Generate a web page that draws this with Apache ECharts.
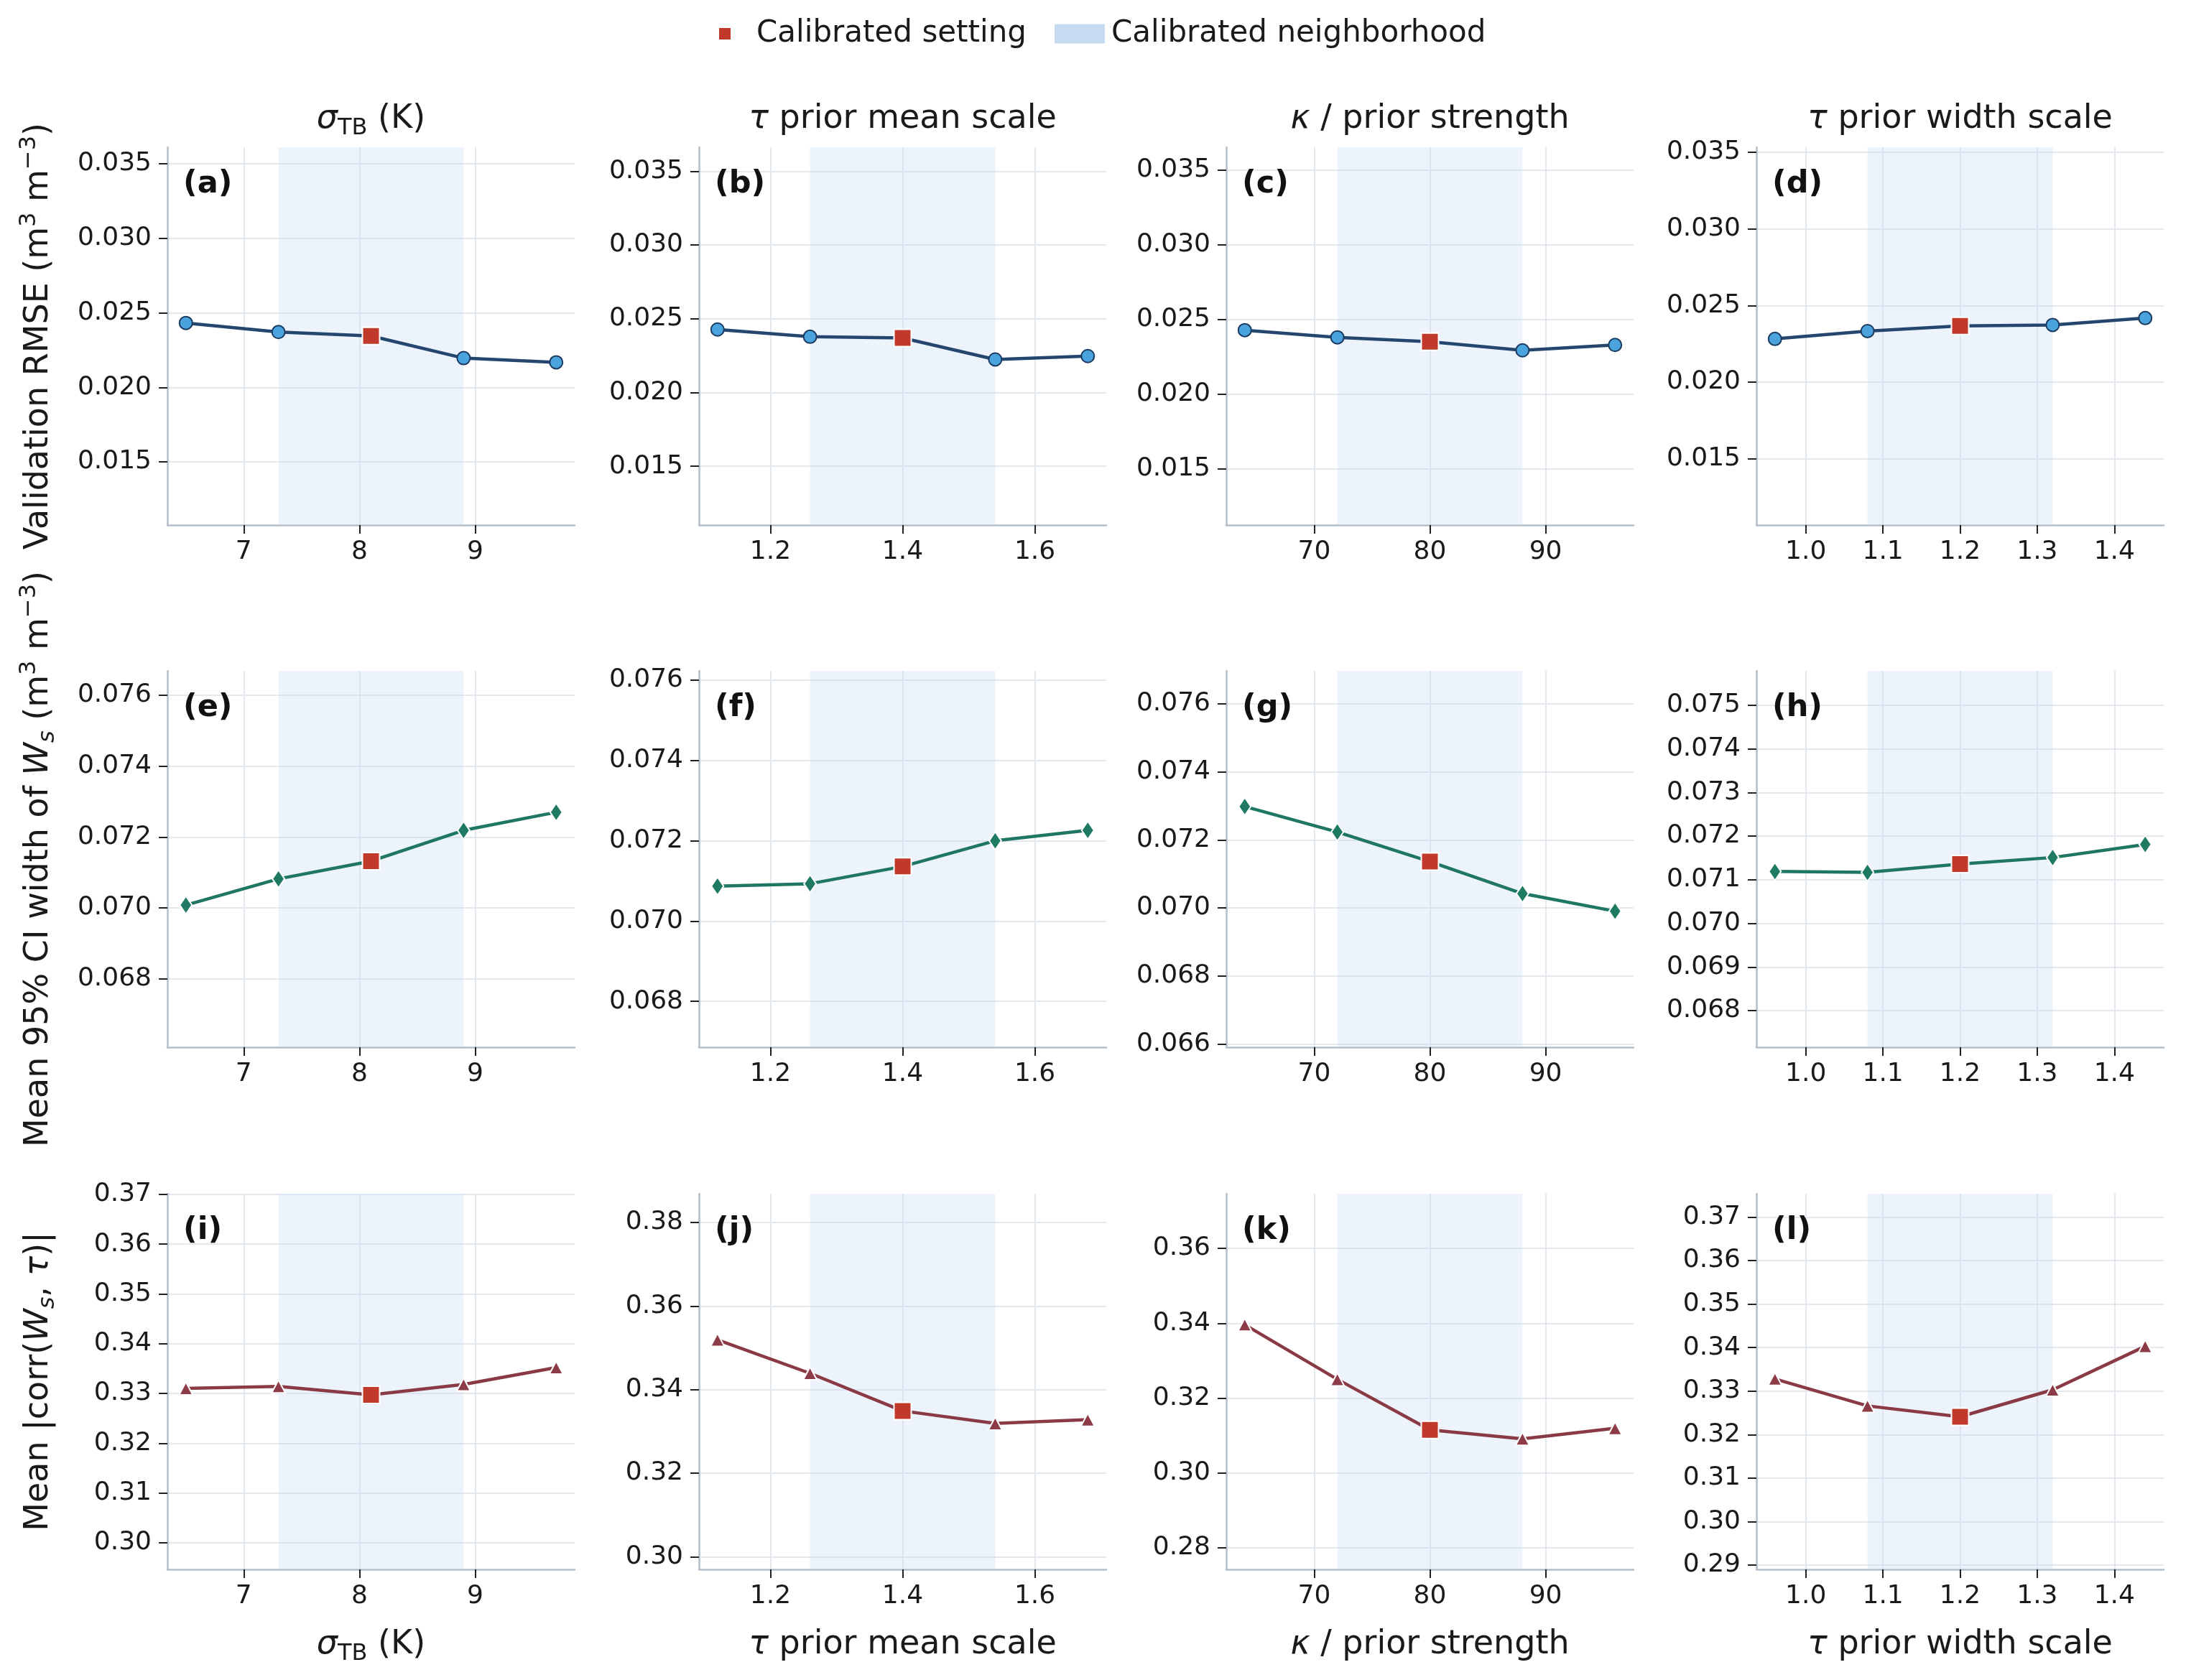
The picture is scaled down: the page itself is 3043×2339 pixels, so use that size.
<!DOCTYPE html>
<html>
<head>
<meta charset="utf-8">
<script src="https://cdn.jsdelivr.net/npm/echarts@6/dist/echarts.min.js"></script>
<style>
  html, body { margin: 0; padding: 0; background: #fff; }
  #chart { width: 3043px; height: 2339px; }
</style>
</head>
<body>
<div id="chart"></div>
<script>
// parameter sweeps (x values of each column)
const sigmaTB = [6.5, 7.3, 8.1, 8.9, 9.7];
const tauMeanScale = [1.12, 1.26, 1.40, 1.54, 1.68];
const kappaStrength = [64, 72, 80, 88, 96];
const tauWidthScale = [0.96, 1.08, 1.20, 1.32, 1.44];
const calibratedIndex = 2;
const neighborhoodLow = [7.3, 1.26, 72, 1.08];
const neighborhoodHigh = [8.9, 1.54, 88, 1.32];

// row 1: validation RMSE
const rmseSigma = [0.02432, 0.02371, 0.02345, 0.02196, 0.02168];
const rmseTauMean = [0.02427, 0.02378, 0.02370, 0.02224, 0.02247];
const rmseKappa = [0.02429, 0.02381, 0.02352, 0.02294, 0.02330];
const rmseTauWidth = [0.02282, 0.02333, 0.02367, 0.02373, 0.02418];

// row 2: mean 95% CI width
const ciSigma = [0.07008, 0.07082, 0.07132, 0.07219, 0.07270];
const ciTauMean = [0.07087, 0.07093, 0.07136, 0.07200, 0.07226];
const ciKappa = [0.07298, 0.07223, 0.07136, 0.07042, 0.06990];
const ciTauWidth = [0.07119, 0.07117, 0.07136, 0.07151, 0.07181];

// row 3: mean |corr(Ws, tau)|
const corrSigma = [0.3310, 0.3314, 0.3297, 0.3318, 0.3352];
const corrTauMean = [0.3519, 0.3439, 0.3349, 0.3319, 0.3328];
const corrKappa = [0.3396, 0.3250, 0.3115, 0.3091, 0.3119];
const corrTauWidth = [0.3328, 0.3266, 0.3241, 0.3303, 0.3403];

// tick labels
const xTicks = [[7, 8, 9], [1.2, 1.4, 1.6], [70, 80, 90], [1.0, 1.1, 1.2, 1.3, 1.4]];
const xDecimals = [0, 1, 0, 1];
const yTicksRmse = [0.015, 0.020, 0.025, 0.030, 0.035];
const yTicksCi = [0.068, 0.070, 0.072, 0.074, 0.076];
const yTicksCiG = [0.066, 0.068, 0.070, 0.072, 0.074, 0.076];
const yTicksCiH = [0.068, 0.069, 0.070, 0.071, 0.072, 0.073, 0.074, 0.075];
const yTicksCorrI = [0.30, 0.31, 0.32, 0.33, 0.34, 0.35, 0.36, 0.37];
const yTicksCorrJ = [0.30, 0.32, 0.34, 0.36, 0.38];
const yTicksCorrK = [0.28, 0.30, 0.32, 0.34, 0.36];
const yTicksCorrL = [0.29, 0.30, 0.31, 0.32, 0.33, 0.34, 0.35, 0.36, 0.37];
const yDecimals = [3, 3, 2];

// y axis limits
const yLimits = [
  [[0.01076, 0.03611], [0.01102, 0.03662], [0.01126, 0.03652], [0.01068, 0.03532]],
  [[0.06607, 0.07669], [0.06686, 0.07623], [0.06590, 0.07697], [0.06716, 0.07579]],
  [[0.29464, 0.37013], [0.29700, 0.38685], [0.27419, 0.37461], [0.28902, 0.37537]]
];

const xValues = [sigmaTB, tauMeanScale, kappaStrength, tauWidthScale];
const yValues = [
  [rmseSigma, rmseTauMean, rmseKappa, rmseTauWidth],
  [ciSigma, ciTauMean, ciKappa, ciTauWidth],
  [corrSigma, corrTauMean, corrKappa, corrTauWidth]
];
const yTicks = [
  [yTicksRmse, yTicksRmse, yTicksRmse, yTicksRmse],
  [yTicksCi, yTicksCi, yTicksCiG, yTicksCiH],
  [yTicksCorrI, yTicksCorrJ, yTicksCorrK, yTicksCorrL]
];
const panelLetters = ['a', 'b', 'c', 'd', 'e', 'f', 'g', 'h', 'i', 'j', 'k', 'l'];

const FONT = 'DejaVu Sans';
const TEXT = '#1a1a1a';
const SPINE = '#b4bec9';
const GRIDLINE = '#e4e8ef';

const colLeft = [233, 973, 1707, 2445];
const colWidth = 567;
const rowTop = [205, 934, 1662];
const rowHeight = [526, 524, 523];

const rowStyle = [
  { line: '#25476f', fill: '#4aa3dc', edge: '#1b3a60', symbol: 'circle', size: 18 },
  { line: '#1f7762', fill: '#1f7a63', edge: '#ffffff', symbol: 'diamond', size: [17, 25] },
  { line: '#8a3a45', fill: '#8c3b47', edge: '#ffffff', symbol: 'triangle', size: [19, 18] }
];

const richBase = {
  i: { fontStyle: 'italic', fontSize: 46, fontFamily: FONT, color: TEXT, lineHeight: 58 },
  sub: { fontSize: 32, fontFamily: FONT, color: TEXT, verticalAlign: 'bottom', lineHeight: 36 },
  isub: { fontSize: 32, fontStyle: 'italic', fontFamily: FONT, color: TEXT, verticalAlign: 'bottom', lineHeight: 36 },
  sup: { fontSize: 32, fontFamily: FONT, color: TEXT, verticalAlign: 'top', lineHeight: 34 }
};

const colNames = [
  '{i|σ}{sub|TB} (K)',
  '{i|τ} prior mean scale',
  '{i|κ} / prior strength',
  '{i|τ} prior width scale'
];
const rowNames = [
  'Validation RMSE (m{sup|3} m{sup|−3})',
  'Mean 95% CI width of {i|W}{isub|s} (m{sup|3} m{sup|−3})',
  'Mean |corr({i|W}{isub|s}, {i|τ})|'
];

const nameStyle = {
  fontSize: 46, fontFamily: FONT, color: TEXT, lineHeight: 58, rich: richBase
};

const grids = [], xAxes = [], yAxes = [], series = [], graphics = [];

for (let r = 0; r < 3; r++) {
  for (let c = 0; c < 4; c++) {
    const k = r * 4 + c;
    const xs = xValues[c];
    const ys = yValues[r][c];
    const st = rowStyle[r];
    const span = xs[xs.length - 1] - xs[0];

    grids.push({
      left: colLeft[c], top: rowTop[r], width: colWidth, height: rowHeight[r],
      containLabel: false, outerBoundsMode: 'none'
    });

    xAxes.push({
      gridIndex: k, type: 'value',
      min: xs[0] - 0.05 * span, max: xs[xs.length - 1] + 0.05 * span,
      axisLine: { show: true, onZero: false, lineStyle: { color: SPINE, width: 2.5 } },
      axisTick: { show: true, length: 12, lineStyle: { color: '#222', width: 2 }, customValues: xTicks[c] },
      axisLabel: {
        customValues: xTicks[c], margin: 20, fontSize: 36, fontFamily: FONT, color: TEXT,
        formatter: v => Number(v).toFixed(xDecimals[c])
      },
      splitLine: { show: true, lineStyle: { color: GRIDLINE, width: 2 } },
      name: r === 2 ? colNames[c] : '',
      nameLocation: 'middle', nameGap: 76,
      nameTextStyle: nameStyle
    });

    yAxes.push({
      gridIndex: k, type: 'value',
      min: yLimits[r][c][0], max: yLimits[r][c][1],
      axisLine: { show: true, onZero: false, lineStyle: { color: SPINE, width: 2.5 } },
      axisTick: { show: true, length: 12, lineStyle: { color: '#222', width: 2 }, customValues: yTicks[r][c] },
      axisLabel: {
        customValues: yTicks[r][c], margin: 22, fontSize: 36, fontFamily: FONT, color: TEXT,
        formatter: v => Number(v).toFixed(yDecimals[r])
      },
      splitLine: { show: true, lineStyle: { color: GRIDLINE, width: 2 } },
      name: c === 0 ? rowNames[r] : '',
      nameLocation: 'middle', nameRotate: 90, nameGap: 150,
      nameTextStyle: nameStyle
    });

    // calibrated neighborhood band
    series.push({
      name: 'Calibrated neighborhood', type: 'line',
      xAxisIndex: k, yAxisIndex: k, data: [],
      color: '#c6dbef', itemStyle: { color: '#c6dbef' }, z: 1, silent: true,
      markArea: {
        silent: true,
        itemStyle: { color: 'rgba(198,219,239,0.32)', borderWidth: 0 },
        data: [[{ xAxis: neighborhoodLow[c] }, { xAxis: neighborhoodHigh[c] }]]
      }
    });

    // sweep line
    series.push({
      type: 'line', xAxisIndex: k, yAxisIndex: k, z: 3, silent: true,
      symbol: st.symbol, symbolSize: st.size,
      lineStyle: { color: st.line, width: 4.5 },
      itemStyle: { color: st.fill, borderColor: st.edge, borderWidth: 2 },
      data: xs.map((x, i) => i === calibratedIndex
        ? { value: [x, ys[i]], symbol: 'none' }
        : [x, ys[i]])
    });

    // calibrated setting
    series.push({
      name: 'Calibrated setting', type: 'scatter',
      xAxisIndex: k, yAxisIndex: k, z: 5, silent: true,
      symbol: 'rect', symbolSize: 24,
      itemStyle: { color: '#c0392b', borderColor: '#ffffff', borderWidth: 2, opacity: 1 },
      data: [[xs[calibratedIndex], ys[calibratedIndex]]]
    });

    graphics.push({
      type: 'text', left: colLeft[c] + 22, top: rowTop[r] + 30, z: 100,
      style: { text: '(' + panelLetters[k] + ')', fontSize: 43, fontWeight: 'bold', fontFamily: FONT, fill: '#111' }
    });
  }
}

// column titles over the top row
for (let c = 0; c < 4; c++) {
  graphics.push({
    type: 'text', x: colLeft[c] + colWidth / 2, y: 166, z: 100,
    style: {
      text: colNames[c], fontSize: 46, fontFamily: FONT, fill: TEXT, lineHeight: 58,
      align: 'center', verticalAlign: 'middle', rich: richBase
    }
  });
}

const chart = echarts.init(document.getElementById('chart'), null, { renderer: 'canvas' });
chart.setOption({
  backgroundColor: '#ffffff',
  animation: false,
  legend: [
    {
      data: [{ name: 'Calibrated setting', icon: 'rect' }],
      left: 999, top: 26, padding: 0, itemWidth: 18, itemHeight: 18, selectedMode: false,
      textStyle: { fontSize: 42, fontFamily: FONT, color: TEXT, padding: [0, 0, 0, 30] }
    },
    {
      data: [{ name: 'Calibrated neighborhood', icon: 'rect' }],
      left: 1468, top: 26, padding: 0, itemWidth: 70, itemHeight: 27, selectedMode: false,
      textStyle: { fontSize: 42, fontFamily: FONT, color: TEXT, padding: [0, 0, 0, 4] }
    }
  ],
  grid: grids,
  xAxis: xAxes,
  yAxis: yAxes,
  series: series,
  graphic: graphics
});
</script>
</body>
</html>
